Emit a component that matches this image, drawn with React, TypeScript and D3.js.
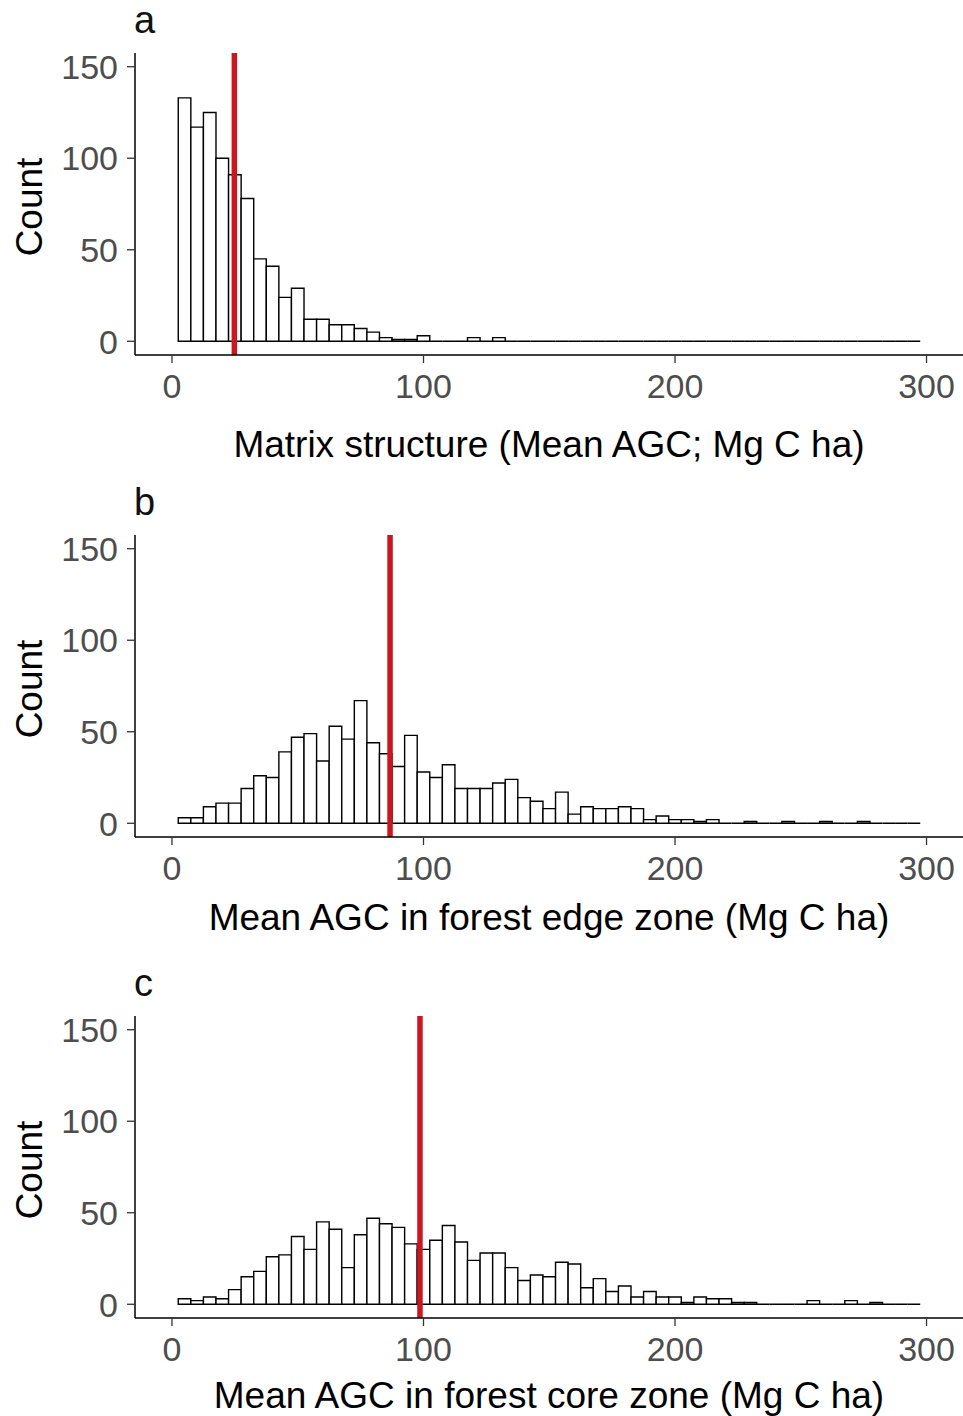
import React from 'react';
import * as d3 from 'd3';

// histogram bins: width 5, first bin starts at 2.5 (centres 5, 10, ... 295)
const binStart = 2.5;
const binWidth = 5;

const xTicks = [0, 100, 200, 300];
const yTicks = [0, 50, 100, 150];

const panelLabels = ['a', 'b', 'c'];
const axisTitles = [
  'Matrix structure (Mean AGC; Mg C ha)',
  'Mean AGC in forest edge zone (Mg C ha)',
  'Mean AGC in forest core zone (Mg C ha)',
];

// counts per bin
const matrixCounts = [
  133, 117, 125, 100, 91, 78, 45, 41, 24, 29, 12, 12, 9, 9, 7, 5, 2, 1, 1, 3,
  0, 0, 0, 2, 0, 2, 0, 0, 0, 0, 0, 0, 0, 0, 0, 0, 0, 0, 0, 0,
  0, 0, 0, 0, 0, 0, 0, 0, 0, 0, 0, 0, 0, 0, 0, 0, 0, 0, 0,
];
const edgeCounts = [
  3, 3, 9, 11, 11, 19, 26, 25, 39, 47, 49, 34, 53, 46, 67, 44, 38, 31, 48, 28,
  25, 32, 19, 19, 19, 22, 24, 14, 12, 8, 17, 5, 9, 8, 8, 9, 8, 2, 4, 2,
  2, 1, 2, 0, 0, 1, 0, 0, 1, 0, 0, 1, 0, 0, 1, 0, 0, 0, 0,
];
const coreCounts = [
  3, 2, 4, 3, 8, 15, 18, 26, 27, 37, 30, 45, 41, 20, 38, 47, 44, 42, 33, 30,
  35, 43, 34, 24, 28, 28, 20, 13, 16, 15, 23, 22, 9, 14, 7, 10, 4, 7, 4, 4,
  1, 4, 3, 3, 1, 1, 0, 0, 0, 0, 2, 0, 0, 2, 0, 1, 0, 0, 0,
];
const panelCounts = [matrixCounts, edgeCounts, coreCounts];

// mean values (red lines)
const meanLines = [24.8, 86.7, 98.6];

// layout
const W = 963;
const H = 1416;
const panelOffsets = [0, 482, 963];
const titleBaselines = [457, 930, 1408];
const plotLeft = 135;
const plotRight = 963;
const plotTop = 53;
const plotBottom = 355;
const tickFont = 34;
const titleFont = 37;
const fontFamily = 'Arial, "Liberation Sans", Helvetica, sans-serif';
const red = '#cc1720';

function Panel({ idx }: { idx: number }) {
  const off = panelOffsets[idx];
  const counts = panelCounts[idx];
  const x = d3.scaleLinear().domain([-14.7, 314.5]).range([plotLeft, plotRight]);
  const y = d3.scaleLinear().domain([-7.5, 157.5]).range([plotBottom + off, plotTop + off]);

  return (
    <g>
      {counts.map((c, i) => {
        const xa = x(binStart + i * binWidth);
        const xb = x(binStart + (i + 1) * binWidth);
        const p = d3.path();
        p.moveTo(xa, y(0));
        p.lineTo(xa, y(c));
        p.lineTo(xb, y(c));
        p.lineTo(xb, y(0));
        p.closePath();
        return (
          <path key={i} d={p.toString()} fill="#fff" stroke="#000" strokeWidth={1.4} />
        );
      })}
      <line
        x1={x(meanLines[idx])}
        x2={x(meanLines[idx])}
        y1={plotTop + off}
        y2={plotBottom + off}
        stroke={red}
        strokeWidth={5.5}
      />
      {/* axes */}
      <line x1={plotLeft} x2={plotLeft} y1={plotTop + off} y2={plotBottom + off} stroke="#000" strokeWidth={1.5} />
      <line x1={plotLeft} x2={plotRight} y1={plotBottom + off} y2={plotBottom + off} stroke="#000" strokeWidth={1.5} />
      {yTicks.map((t) => (
        <g key={'y' + t}>
          <line x1={plotLeft - 8} x2={plotLeft} y1={y(t)} y2={y(t)} stroke="#333" strokeWidth={1.3} />
          <text
            x={plotLeft - 17}
            y={y(t)}
            dy="0.36em"
            textAnchor="end"
            fontSize={tickFont}
            fill="#4d4d4d"
            fontFamily={fontFamily}
          >
            {t}
          </text>
        </g>
      ))}
      {xTicks.map((t) => (
        <g key={'x' + t}>
          <line x1={x(t)} x2={x(t)} y1={plotBottom + off} y2={plotBottom + off + 8} stroke="#333" strokeWidth={1.3} />
          <text
            x={x(t)}
            y={398 + off}
            textAnchor="middle"
            fontSize={tickFont}
            fill="#4d4d4d"
            fontFamily={fontFamily}
          >
            {t}
          </text>
        </g>
      ))}
      <text x={plotLeft - 1} y={33 + off} fontSize={38} fill="#111" fontFamily={fontFamily}>
        {panelLabels[idx]}
      </text>
      <text
        transform={`translate(42,${207 + off}) rotate(-90)`}
        textAnchor="middle"
        fontSize={titleFont}
        fill="#000"
        fontFamily={fontFamily}
      >
        Count
      </text>
      <text
        x={(plotLeft + plotRight) / 2}
        y={titleBaselines[idx]}
        textAnchor="middle"
        fontSize={titleFont}
        fill="#000"
        fontFamily={fontFamily}
      >
        {axisTitles[idx]}
      </text>
    </g>
  );
}

export default function App() {
  return (
    <svg
      width={W}
      height={H}
      style={{ position: 'absolute', left: 0, top: 0, background: '#fff' }}
    >
      <rect width={W} height={H} fill="#fff" />
      {panelLabels.map((_, i) => (
        <Panel key={i} idx={i} />
      ))}
    </svg>
  );
}
